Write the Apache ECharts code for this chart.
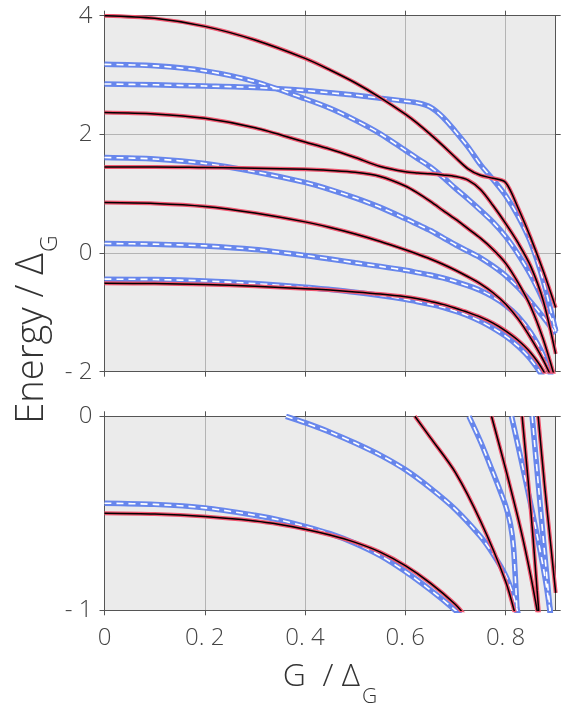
<!DOCTYPE html>
<html><head><meta charset="utf-8">
<script src="https://cdn.jsdelivr.net/npm/echarts@6/dist/echarts.min.js"></script>
<style>html,body{margin:0;padding:0;background:#fff}#c{width:570px;height:707px}</style>
</head><body><div id="c"></div>
<script>
// ---------- data ----------
const xTicks = [0, 0.2, 0.4, 0.6, 0.8];
const xTickLabels = ['0', '0. 2', '0. 4', '0. 6', '0. 8'];
const yTopTicks = [-2, 0, 2, 4];
const yTopLabels = ['- 2', '0', '2', '4'];
const yBotTicks = [-1, 0];
const yBotLabels = ['- 1', '0'];

// upper panel: common G grid
const T  = [0,0.1,0.2,0.3,0.4,0.45,0.5,0.55,0.6,0.625,0.65,0.675,0.7,0.725,0.75,0.775,0.8,0.825,0.85,0.875,0.9];
const R1 = [4.00,3.955,3.82,3.59,3.28,3.085,2.87,2.62,2.34,2.18,2.00,1.81,1.61,1.42,1.31,1.26,1.19,0.76,0.26,-0.30,-0.92];
const R2 = [2.37,2.345,2.27,2.11,1.87,1.75,1.61,1.46,1.37,1.35,1.335,1.315,1.29,1.23,1.07,0.80,0.50,0.17,-0.22,-0.80,-1.70];
const R3 = [1.45,1.45,1.44,1.43,1.41,1.39,1.36,1.29,1.13,1.01,0.87,0.72,0.57,0.41,0.25,0.06,-0.17,-0.50,-0.90,-1.45,-2.15];
const R4 = [0.85,0.835,0.785,0.675,0.525,0.43,0.32,0.195,0.055,-0.02,-0.10,-0.19,-0.29,-0.40,-0.52,-0.67,-0.86,-1.11,-1.43,-1.80,-2.25];
const R5 = [-0.51,-0.515,-0.53,-0.56,-0.60,-0.625,-0.655,-0.69,-0.735,-0.77,-0.815,-0.865,-0.93,-1.00,-1.08,-1.18,-1.31,-1.47,-1.68,-1.98,-2.45];
const B1 = [3.18,3.155,3.07,2.89,2.60,2.44,2.24,2.01,1.73,1.59,1.45,1.28,1.09,0.91,0.72,0.52,0.28,-0.02,-0.37,-0.80,-1.30];
const B2 = [2.85,2.835,2.815,2.79,2.74,2.70,2.66,2.61,2.56,2.53,2.46,2.29,2.05,1.79,1.49,1.24,0.97,0.62,0.18,-0.46,-1.32];
const B3 = [1.61,1.585,1.51,1.37,1.19,1.07,0.93,0.77,0.58,0.48,0.38,0.26,0.14,0.03,-0.08,-0.22,-0.38,-0.58,-0.82,-1.08,-1.36];
const B4 = [0.16,0.15,0.12,0.06,-0.04,-0.10,-0.165,-0.225,-0.29,-0.33,-0.37,-0.42,-0.48,-0.55,-0.63,-0.74,-0.88,-1.07,-1.34,-1.72,-2.30];
const B5 = [-0.44,-0.446,-0.47,-0.515,-0.575,-0.615,-0.66,-0.715,-0.78,-0.82,-0.865,-0.915,-0.98,-1.055,-1.15,-1.265,-1.40,-1.57,-1.79,-2.10,-2.60];

// lower panel
const LX1 = [0,0.1,0.2,0.3,0.35,0.4,0.45,0.5,0.55,0.6,0.65,0.7,0.72];
const LR1 = [-0.500,-0.504,-0.517,-0.540,-0.558,-0.582,-0.612,-0.650,-0.700,-0.770,-0.860,-0.970,-1.030];
const LB1 = [-0.448,-0.454,-0.472,-0.510,-0.535,-0.567,-0.605,-0.655,-0.718,-0.800,-0.895,-1.000,-1.050];
const LB2x = [0.362,0.4,0.45,0.5,0.55,0.6,0.65,0.7,0.75,0.775,0.8,0.815,0.827];
const LB2  = [0,-0.033,-0.082,-0.138,-0.20,-0.275,-0.37,-0.48,-0.62,-0.71,-0.82,-0.92,-1.04];
const LR2x = [0.619,0.65,0.7,0.75,0.8,0.82];
const LR2  = [0,-0.11,-0.29,-0.54,-0.85,-1.03];
const LB3x = [0.727,0.75,0.775,0.79,0.8,0.81,0.816,0.823];
const LB3  = [0,-0.13,-0.29,-0.39,-0.46,-0.56,-0.68,-1.02];
const LR3x = [0.772,0.8,0.83,0.85,0.865];
const LR3  = [0,-0.27,-0.58,-0.82,-1.03];
const LB4x = [0.812,0.84,0.865,0.88,0.89];
const LB4  = [0,-0.33,-0.64,-0.85,-1.03];
const LR4x = [0.833,0.845,0.855,0.863,0.867];
const LR4  = [0,-0.33,-0.63,-0.90,-1.03];
const LB5x = [0.853,0.866,0.877,0.884,0.89];
const LB5  = [0,-0.37,-0.68,-0.87,-1.03];
const LR5x = [0.865,0.878,0.89,0.9];
const LR5  = [0,-0.36,-0.66,-0.91];

// ---------- styling ----------
const FONT = "'Open Sans', 'Noto Sans', sans-serif";
const TXT = '#444';
const AX = '#555';
const GRIDC = '#b4b4b4';
const RED = '#f0566f';
const BLUE = '#6786ec';

const pair = (xs, ys) => xs.map((x, i) => [x, ys[i]]);

function xAx(grid, pos, labels, split) {
  return {
    type: 'value', gridIndex: grid, position: pos, min: 0, max: 0.9,
    axisLine: { show: true, onZero: false, lineStyle: { color: AX, width: 1 } },
    axisTick: { show: true, inside: false, length: 5, customValues: xTicks, lineStyle: { color: AX } },
    axisLabel: labels ? {
      show: true, customValues: xTicks, margin: 16, color: TXT, fontSize: 24, fontWeight: 300, fontFamily: FONT,
      formatter: v => { const i = xTicks.findIndex(t => Math.abs(t - v) < 1e-6); return i >= 0 ? xTickLabels[i] : ''; }
    } : { show: false },
    splitLine: { show: split, lineStyle: { color: GRIDC, width: 1 } }
  };
}
function yAx(grid, pos, min, max, interval, ticks, labels, showLabels, split) {
  return {
    type: 'value', gridIndex: grid, position: pos, min: min, max: max, interval: interval,
    axisLine: { show: true, onZero: false, lineStyle: { color: AX, width: 1 } },
    axisTick: { show: true, inside: false, length: 5, lineStyle: { color: AX } },
    axisLabel: showLabels ? {
      show: true, margin: 12, color: TXT, fontSize: 24, fontWeight: 300, fontFamily: FONT,
      formatter: v => { const i = ticks.findIndex(t => Math.abs(t - v) < 1e-6); return i >= 0 ? labels[i] : ''; }
    } : { show: false },
    splitLine: { show: split, lineStyle: { color: GRIDC, width: 1 } }
  };
}

const series = [];
function addBlue(xs, ys, xi, yi) {
  const d = pair(xs, ys);
  series.push({ type: 'line', xAxisIndex: xi, yAxisIndex: yi, data: d, symbol: 'none', smooth: 0.3, z: 2,
    lineStyle: { color: BLUE, width: 5.5 }, silent: true });
  series.push({ type: 'line', xAxisIndex: xi, yAxisIndex: yi, data: d, symbol: 'none', smooth: 0.3, z: 3,
    lineStyle: { color: '#ffffff', width: 1.6, type: [7, 5] }, silent: true });
}
function addRed(xs, ys, xi, yi) {
  const d = pair(xs, ys);
  series.push({ type: 'line', xAxisIndex: xi, yAxisIndex: yi, data: d, symbol: 'none', smooth: 0.3, z: 4,
    lineStyle: { color: RED, width: 4 }, silent: true });
  series.push({ type: 'line', xAxisIndex: xi, yAxisIndex: yi, data: d, symbol: 'none', smooth: 0.3, z: 5,
    lineStyle: { color: '#000000', width: 1.5 }, silent: true });
}
[B1, B2, B3, B4, B5].forEach(b => addBlue(T, b, 0, 0));
[R1, R2, R3, R4, R5].forEach(r => addRed(T, r, 0, 0));
addBlue(LX1, LB1, 2, 2); addBlue(LB2x, LB2, 2, 2); addBlue(LB3x, LB3, 2, 2); addBlue(LB4x, LB4, 2, 2); addBlue(LB5x, LB5, 2, 2);
addRed(LX1, LR1, 2, 2); addRed(LR2x, LR2, 2, 2); addRed(LR3x, LR3, 2, 2); addRed(LR4x, LR4, 2, 2); addRed(LR5x, LR5, 2, 2);

const chart = echarts.init(document.getElementById('c'), null, { renderer: 'canvas' });
chart.setOption({
  animation: false,
  backgroundColor: '#ffffff',
  grid: [
    { left: 104.5, right: 14.3, top: 15.7, height: 356, show: true, backgroundColor: '#ebebeb', borderWidth: 0 },
    { left: 104.5, right: 14.3, top: 416.3, height: 194, show: true, backgroundColor: '#ebebeb', borderWidth: 0 }
  ],
  xAxis: [ xAx(0, 'bottom', false, true), xAx(0, 'top', false, false), xAx(1, 'bottom', true, true), xAx(1, 'top', false, false) ],
  yAxis: [
    yAx(0, 'left', -2, 4, 2, yTopTicks, yTopLabels, true, true),
    yAx(0, 'right', -2, 4, 2, yTopTicks, yTopLabels, false, false),
    yAx(1, 'left', -1, 0, 1, yBotTicks, yBotLabels, true, true),
    yAx(1, 'right', -1, 0, 1, yBotTicks, yBotLabels, false, false)
  ],
  graphic: [
    { type: 'text', x: 32, y: 253, rotation: Math.PI / 2, silent: true,
      style: { text: 'Energy / Δ', fill: '#333', font: "300 38px 'Open Sans', sans-serif", align: 'right', verticalAlign: 'middle' } },
    { type: 'text', x: 50, y: 252, rotation: Math.PI / 2, silent: true,
      style: { text: 'G', fill: '#333', font: "300 23px 'Open Sans', sans-serif", align: 'left', verticalAlign: 'middle' } },
    { type: 'text', x: 360, y: 677, silent: true,
      style: { text: 'G  / Δ', fill: '#333', font: "300 32px 'Open Sans', sans-serif", align: 'right', verticalAlign: 'middle' } },
    { type: 'text', x: 362, y: 697, silent: true,
      style: { text: 'G', fill: '#333', font: "300 21px 'Open Sans', sans-serif", align: 'left', verticalAlign: 'middle' } }
  ],
  series: series
});
</script></body></html>
